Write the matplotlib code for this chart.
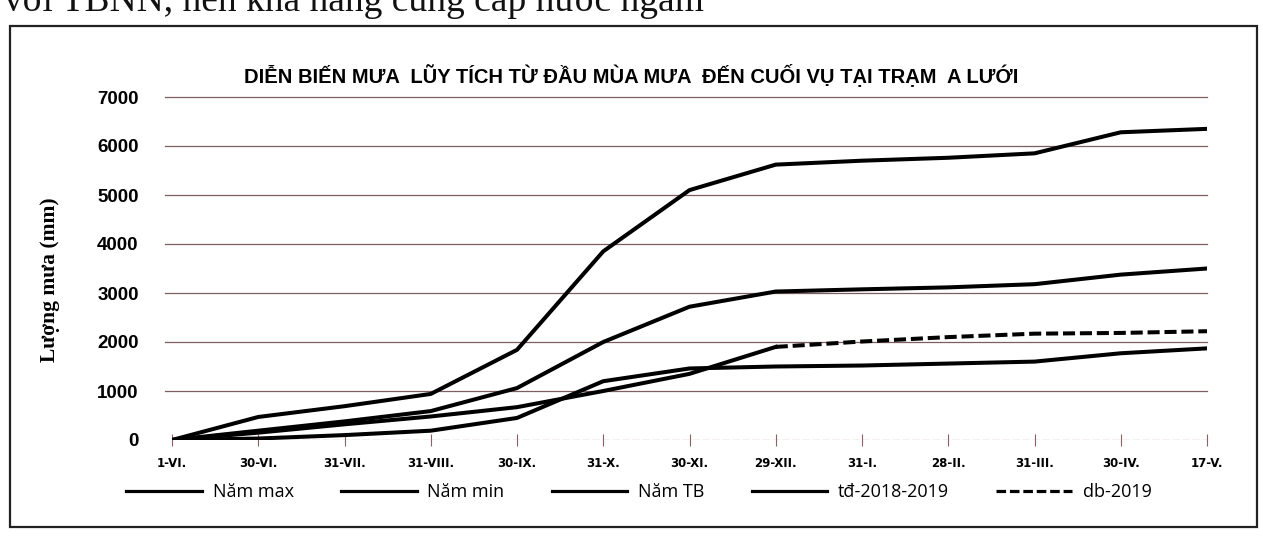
import numpy as np
import matplotlib.pyplot as plt
from matplotlib.patches import Rectangle
from matplotlib.lines import Line2D

# categories (dates along the season)
dates = ['1-VI.', '30-VI.', '31-VII.', '31-VIII.', '30-IX.', '31-X.', '30-XI.',
         '29-XII.', '31-I.', '28-II.', '31-III.', '30-IV.', '17-V.']

# cumulative rainfall (mm)
nam_max = [0, 470, 690, 940, 1840, 3850, 5100, 5620, 5700, 5760, 5850, 6280, 6350]
nam_min = [0, 30, 100, 190, 450, 1200, 1460, 1500, 1520, 1560, 1600, 1770, 1870]
nam_tb = [0, 190, 380, 590, 1060, 2000, 2720, 3030, 3075, 3115, 3180, 3375, 3500]
td_1819 = [0, 150, 320, 480, 670, 1000, 1350, 1900]
db_2019 = [np.nan]*7 + [1900, 2010, 2100, 2170, 2185, 2220]

W, H = 1263, 536
fig = plt.figure(figsize=(W/100, H/100), dpi=100)

# scanned paragraph line cut at the top of the page
fig.text(4/W, 1-11/H, 'với TBNN, nên khả năng cung cấp nước ngầm', family='Liberation Serif',
         fontsize=27, va='baseline', ha='left', color='#111111')

# frame around the chart
fig.patches.append(Rectangle((10/W, 1-527/H), 1247/W, 501/H, transform=fig.transFigure,
                             fill=False, lw=1.6, ec='#222222'))

x0, x1 = 172, 1207
y0, y7 = 440, 97
ax = fig.add_axes([x0/W, 1-y0/H, (x1-x0)/W, (y0-y7)/H])
x = np.arange(len(dates))

for v in range(1000, 8000, 1000):
    ax.plot([-0.08, 12], [v, v], color='#7d5f5f', lw=0.9, clip_on=False, zorder=1)
ax.plot([0, 12], [0, 0], color='#b88080', lw=0.9, ls=(0, (6, 2)), zorder=1)

lw = 2.9
ax.plot(x, nam_max, color='black', lw=lw, solid_joinstyle='round')
ax.plot(x, nam_min, color='black', lw=lw, solid_joinstyle='round')
ax.plot(x, nam_tb, color='black', lw=lw, solid_joinstyle='round')
ax.plot(x[:len(td_1819)], td_1819, color='black', lw=lw, solid_joinstyle='round')
ax.plot(x, db_2019, color='black', lw=lw, dashes=(3, 1.2))

ax.set_xlim(0, 12)
ax.set_ylim(0, 7000)
for s in ax.spines.values():
    s.set_visible(False)
ax.set_xticks(x)
ax.set_xticklabels(dates, fontsize=8.5, fontweight='bold', family='Liberation Sans Narrow')
ax.tick_params(axis='x', direction='inout', length=8, color='#8a6060', pad=8)
ax.set_yticks(range(0, 8000, 1000))
ax.set_yticklabels([str(v) for v in range(0, 8000, 1000)], fontsize=13.5, fontweight='bold',
                   family='Liberation Sans')
ax.tick_params(axis='y', length=0, pad=24)

fig.text(50/W, 1-280/H, 'Lượng mưa (mm)', rotation=90, family='Liberation Serif',
         fontweight='bold', fontsize=15.5, ha='center', va='center')

fig.text(631/W, 1-75/H, 'DIỄN BIẾN MƯA  LŨY TÍCH TỪ ĐẦU MÙA MƯA  ĐẾN CUỐI VỤ TẠI TRẠM  A LƯỚI',
         family='Liberation Sans', fontweight='bold', fontsize=14.5, ha='center', va='center')

handles = [Line2D([], [], color='black', lw=2.3),
           Line2D([], [], color='black', lw=2.3),
           Line2D([], [], color='black', lw=2.3),
           Line2D([], [], color='black', lw=2.3),
           Line2D([], [], color='black', lw=2.3, dashes=(3, 1.2))]
labels = ['Năm max', 'Năm min', 'Năm TB', 'tđ-2018-2019', 'db-2019']
fig.legend(handles, labels, loc='center', bbox_to_anchor=(639/W, 1-492/H), ncol=5,
           frameon=False, handlelength=4.2, handletextpad=0.6,
           columnspacing=2.6, prop={'family': 'Open Sans', 'size': 13})

fig.savefig('out.png', dpi=100)
